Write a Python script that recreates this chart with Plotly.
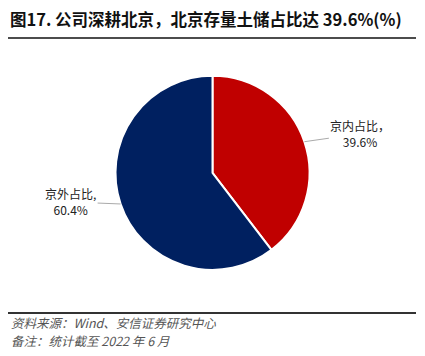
import math
import plotly.graph_objects as go

# Data
categories = ["京内占比", "京外占比"]
values = [39.6, 60.4]
label_texts = ["京内占比，<br>39.6%", "京外占比,<br>60.4%"]
colors = ["#C00000", "#002060"]

W, H = 425, 356
dom_y = [0.242, 0.787]

fig = go.Figure(go.Pie(
    labels=categories, values=values, sort=False, direction="clockwise",
    rotation=0, marker=dict(colors=colors, line=dict(color="white", width=2)),
    textinfo="none", hoverinfo="label+value", showlegend=False,
    domain=dict(x=[0, 1], y=dom_y),
))

# compute label anchor points from data
cx = W / 2
cy = H * (1 - (dom_y[0] + dom_y[1]) / 2)
r = (dom_y[1] - dom_y[0]) * H / 2
total = sum(values)
cum = 0
offsets = [(56, -8), (-50, -2)]
annotations = []
for v, t, off in zip(values, label_texts, offsets):
    mid = (cum + v / 2) / total * 2 * math.pi
    cum += v
    px = cx + r * math.sin(mid)
    py = cy - r * math.cos(mid)
    annotations.append(dict(
        x=px / W, y=1 - py / H, xref="paper", yref="paper",
        text=t, showarrow=True, arrowhead=0, arrowwidth=1, arrowcolor="#aaaaaa",
        ax=off[0], ay=off[1], font=dict(size=12, color="#222"),
        align="center"))

annotations += [
    dict(x=8 / W, y=1 - 19 / H, xref="paper", yref="paper", xanchor="left", yanchor="middle",
         text="<b>图17. 公司深耕北京，北京存量土储占比达 39.6%(%)</b>", showarrow=False,
         font=dict(size=16.5, color="#111")),
    dict(x=9 / W, y=1 - 322 / H, xref="paper", yref="paper", xanchor="left", yanchor="middle",
         text="<i>资料来源：Wind、安信证券研究中心</i>", showarrow=False,
         font=dict(size=12.5, color="#555")),
    dict(x=9 / W, y=1 - 340 / H, xref="paper", yref="paper", xanchor="left", yanchor="middle",
         text="<i>备注：统计截至 2022 年 6 月</i>", showarrow=False,
         font=dict(size=12.5, color="#555")),
]

shapes = [
    dict(type="line", xref="paper", yref="paper", x0=8 / W, x1=416 / W,
         y0=1 - 38 / H, y1=1 - 38 / H, line=dict(color="#111", width=1.5)),
    dict(type="line", xref="paper", yref="paper", x0=8 / W, x1=416 / W,
         y0=1 - 313 / H, y1=1 - 313 / H, line=dict(color="#333", width=2)),
]

fig.update_layout(
    width=W, height=H, margin=dict(l=0, r=0, t=0, b=0),
    paper_bgcolor="white", plot_bgcolor="white",
    font=dict(family="Noto Sans CJK SC, Arial, sans-serif"),
    annotations=annotations, shapes=shapes,
)

fig.write_html("out.html", config={"displayModeBar": False},
               post_script="document.body.style.margin='0';document.body.style.overflow='hidden';")
